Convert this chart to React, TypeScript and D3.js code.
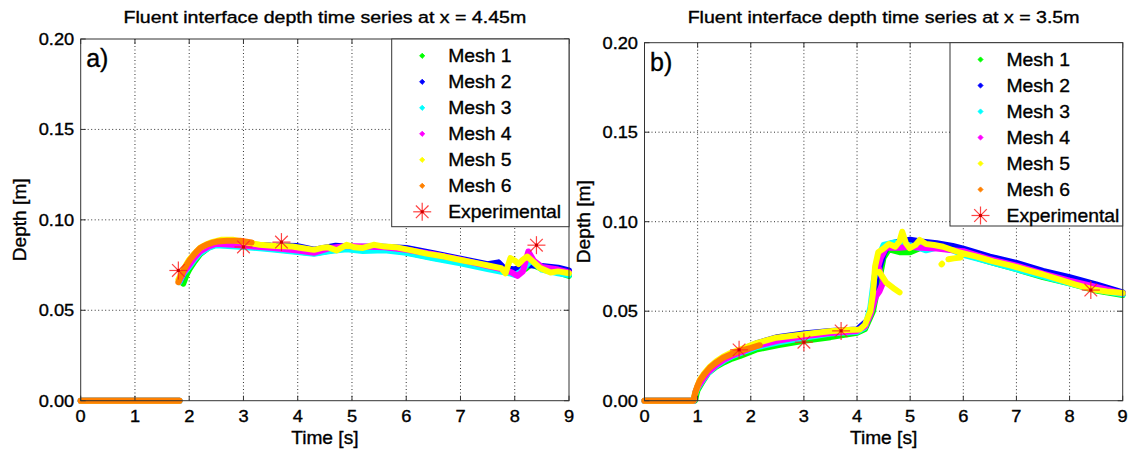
import React from "react";
import * as d3 from "d3";

type P = [number, number];
const G = NaN; // gap marker

// ---------- Panel a (x = 4.45 m) ----------
const aMesh1: P[] = [[0,0],[1.82,0],[G,G],[1.89,0.0647],[1.95,0.0695],[2.0,0.0725],[2.1,0.077],[2.2,0.081],[2.35,0.0845],[2.5,0.0865],[3.0,0.0855],[3.5,0.0842],[4.0,0.0825],[4.3,0.0815],[4.6,0.083],[4.9,0.0845],[5.2,0.0835],[5.6,0.084],[6.0,0.082],[6.5,0.079],[7.0,0.0765],[7.5,0.0735],[7.8,0.0718],[8.0,0.072],[8.2,0.073],[8.3,0.0755],[8.5,0.073],[8.8,0.071],[9.0,0.069]];
const aMesh2: P[] = [[0,0],[1.82,0],[G,G],[1.83,0.066],[1.9,0.0705],[2.0,0.0745],[2.1,0.079],[2.2,0.0825],[2.35,0.0852],[2.5,0.0868],[3.0,0.0865],[3.5,0.0858],[4.0,0.0855],[4.3,0.0835],[4.7,0.0857],[5.0,0.085],[5.5,0.0852],[6.0,0.0845],[6.5,0.0815],[7.0,0.0785],[7.5,0.0755],[7.7,0.0765],[7.8,0.0735],[8.0,0.0725],[8.2,0.075],[8.5,0.0745],[8.8,0.0735],[9.0,0.072]];
const aMesh3: P[] = [[0,0],[1.82,0],[G,G],[1.82,0.0655],[1.9,0.0705],[2.0,0.074],[2.1,0.0782],[2.2,0.0815],[2.35,0.0845],[2.5,0.086],[3.0,0.085],[3.5,0.0838],[4.0,0.0822],[4.3,0.0812],[4.6,0.0828],[4.9,0.0838],[5.2,0.0828],[5.6,0.0832],[6.0,0.0818],[6.5,0.0788],[7.0,0.076],[7.5,0.0728],[7.9,0.0705],[8.0,0.0695],[8.1,0.071],[8.3,0.0775],[8.5,0.0725],[8.8,0.0705],[9.0,0.0695]];
const aMesh4: P[] = [[0,0],[1.82,0],[G,G],[1.81,0.066],[1.9,0.071],[2.0,0.075],[2.1,0.0792],[2.2,0.0825],[2.35,0.0852],[2.5,0.0868],[3.0,0.0858],[3.5,0.0845],[4.0,0.083],[4.3,0.0818],[4.6,0.0845],[4.9,0.0855],[5.2,0.0852],[5.6,0.0848],[6.0,0.0835],[6.5,0.081],[7.0,0.078],[7.5,0.0745],[7.8,0.0725],[7.95,0.0708],[8.05,0.069],[8.15,0.0715],[8.25,0.0825],[8.35,0.0775],[8.5,0.074],[8.8,0.0725],[9.0,0.071]];
const aMesh5: P[] = [[0,0],[1.82,0],[G,G],[1.8,0.067],[1.9,0.073],[2.0,0.078],[2.1,0.0815],[2.2,0.0845],[2.3,0.0862],[2.4,0.0875],[2.6,0.089],[2.8,0.089],[3.0,0.0878],[3.3,0.0862],[3.6,0.0855],[3.9,0.0853],[4.1,0.0843],[4.3,0.0834],[4.45,0.0845],[4.55,0.0849],[4.72,0.0831],[4.9,0.0862],[5.05,0.0848],[5.2,0.0845],[5.4,0.0862],[5.6,0.0852],[5.8,0.0849],[6.1,0.0831],[6.4,0.0812],[6.7,0.0797],[7.0,0.0778],[7.3,0.0761],[7.55,0.0745],[7.75,0.0733],[7.83,0.0705],[7.92,0.0788],[8.0,0.0775],[8.07,0.0755],[8.15,0.078],[8.23,0.0797],[8.35,0.0765],[8.47,0.0733],[8.66,0.0709],[8.8,0.0715],[9.0,0.0705]];
const aMesh6: P[] = [[0,0],[1.82,0],[G,G],[1.8,0.0655],[1.85,0.069],[1.9,0.0722],[1.96,0.0755],[2.02,0.0782],[2.08,0.0805],[2.14,0.0826],[2.2,0.0844],[2.28,0.0857],[2.35,0.0866],[2.43,0.0874],[2.51,0.088],[2.7,0.0884],[2.94,0.0884],[3.15,0.0875]];
const aExpTime = [1.8, 3.0, 3.7, 8.4];
const aExpDepth = [0.072, 0.085, 0.0877, 0.086];

// ---------- Panel b (x = 3.5 m) ----------
const bMesh1: P[] = [[0,0],[0.95,0],[0.98,0.004],[1.0,0.006],[1.1,0.011],[1.2,0.0155],[1.35,0.019],[1.5,0.0215],[1.65,0.0235],[1.8,0.025],[2.1,0.0285],[2.5,0.031],[3.0,0.0335],[3.5,0.0355],[4.0,0.038],[4.15,0.04],[4.3,0.05],[4.4,0.065],[4.5,0.08],[4.6,0.0845],[4.8,0.083],[5.0,0.083],[5.2,0.0855],[5.5,0.0855],[5.8,0.085],[6.0,0.082],[6.5,0.0775],[7.0,0.0735],[7.5,0.069],[8.0,0.0655],[8.5,0.0615],[9.0,0.059]];
const bMesh2: P[] = [[0,0],[0.93,0],[0.96,0.005],[1.0,0.008],[1.1,0.0128],[1.2,0.017],[1.35,0.021],[1.5,0.0242],[1.65,0.0265],[1.8,0.0282],[2.1,0.032],[2.5,0.0355],[3.0,0.0375],[3.5,0.039],[4.0,0.0398],[4.2,0.045],[4.3,0.055],[4.38,0.07],[4.45,0.077],[4.5,0.082],[4.6,0.0875],[4.8,0.089],[5.0,0.09],[5.2,0.089],[5.5,0.088],[5.8,0.0865],[6.0,0.085],[6.5,0.0805],[7.0,0.077],[7.5,0.0725],[8.0,0.069],[8.5,0.065],[9.0,0.0605]];
const bMesh3: P[] = [[0,0],[0.93,0],[0.96,0.0045],[1.0,0.007],[1.1,0.0115],[1.2,0.0155],[1.35,0.0195],[1.5,0.0225],[1.65,0.0248],[1.8,0.0265],[2.1,0.0298],[2.5,0.0325],[3.0,0.0352],[3.5,0.0375],[4.0,0.0385],[4.15,0.041],[4.25,0.052],[4.32,0.068],[4.4,0.08],[4.5,0.087],[4.7,0.0885],[4.9,0.0875],[5.1,0.086],[5.3,0.084],[5.5,0.0855],[5.8,0.084],[6.0,0.0815],[6.5,0.0775],[7.0,0.0735],[7.5,0.0695],[8.0,0.0655],[8.5,0.062],[9.0,0.0595]];
const bMesh4: P[] = [[0,0],[0.93,0],[0.96,0.0048],[1.0,0.0075],[1.1,0.012],[1.2,0.016],[1.35,0.02],[1.5,0.023],[1.65,0.0252],[1.8,0.027],[2.1,0.0305],[2.5,0.0335],[3.0,0.036],[3.5,0.0378],[4.0,0.039],[4.15,0.0415],[4.25,0.048],[4.35,0.058],[4.42,0.061],[4.5,0.0667],[4.45,0.0704],[4.4,0.075],[4.45,0.08],[4.55,0.0855],[4.8,0.0855],[5.0,0.086],[5.2,0.0855],[5.5,0.085],[5.8,0.084],[6.0,0.0835],[6.5,0.079],[7.0,0.0755],[7.5,0.071],[8.0,0.067],[8.5,0.0635],[9.0,0.06]];
const bMesh5: P[] = [[0,0],[0.92,0],[0.95,0.004],[1.04,0.0116],[1.13,0.0155],[1.23,0.019],[1.35,0.022],[1.48,0.0246],[1.63,0.0268],[1.79,0.0285],[2.11,0.0322],[2.48,0.0352],[2.98,0.037],[3.48,0.0388],[3.8,0.0395],[4.05,0.0398],[4.15,0.0425],[4.25,0.05],[4.3,0.06],[4.34,0.075],[4.4,0.083],[4.5,0.085],[4.6,0.0875],[4.72,0.086],[4.8,0.089],[4.85,0.0944],[4.92,0.088],[4.99,0.0852],[5.1,0.087],[5.18,0.0898],[5.3,0.0875],[5.45,0.087],[5.62,0.086],[5.93,0.0828],[6.25,0.0805],[6.56,0.0778],[6.9,0.0755],[7.18,0.0731],[7.5,0.0705],[7.81,0.0676],[8.1,0.065],[8.44,0.0622],[8.7,0.061],[9.0,0.0602],
  [G,G],[4.42,0.072],[4.55,0.066],[4.68,0.063],[4.8,0.0605],
  [G,G],[5.59,0.0762],[5.6,0.0765],
  [G,G],[5.72,0.079],[5.82,0.0795],[5.95,0.08]];
const bMesh6: P[] = [[0,0],[0.92,0],[0.95,0.004],[1.0,0.0085],[1.04,0.0112],[1.13,0.015],[1.23,0.0185],[1.35,0.0214],[1.48,0.024],[1.63,0.026],[1.79,0.0278],[2.0,0.0295],[2.17,0.031]];
const bExpTime = [1.78, 3.0, 3.7, 8.4];
const bExpDepth = [0.0284, 0.0327, 0.039, 0.0618];

const meshNames = ["Mesh 1", "Mesh 2", "Mesh 3", "Mesh 4", "Mesh 5", "Mesh 6"];
const meshColors = ["#00ff00", "#0000ff", "#00ffff", "#ff00ff", "#ffff00", "#ff8000"];
const xTicks = [0, 1, 2, 3, 4, 5, 6, 7, 8, 9];
const yTicks = [0, 0.05, 0.1, 0.15, 0.2];
const titles = ["Fluent interface depth time series at x = 4.45m", "Fluent interface depth time series at x = 3.5m"];
const panelLetters = ["a)", "b)"];

const FONT = "'Liberation Sans', Arial, Helvetica, sans-serif";

const T = ({ x, y, size, sx = 1, anchor = "start", rot = 0, children }: any) => (
  <text
    transform={`translate(${x},${y})${rot ? ` rotate(${rot})` : ""} scale(${sx},1)`}
    fontSize={size}
    textAnchor={anchor}
    fontFamily={FONT}
    fill="#000"
    stroke="#000"
    strokeWidth={0.35}
  >
    {children}
  </text>
);

const Star = ({ cx, cy, s = 1 }: { cx: number; cy: number; s?: number }) => {
  const a = 9 * s, b = 6.3 * s;
  return (
    <g stroke="#ff2020" strokeWidth={1.2} strokeOpacity={0.85}>
      <line x1={cx - a} y1={cy} x2={cx + a} y2={cy} />
      <line x1={cx} y1={cy - a} x2={cx} y2={cy + a} />
      <line x1={cx - b} y1={cy - b} x2={cx + b} y2={cy + b} />
      <line x1={cx - b} y1={cy + b} x2={cx + b} y2={cy - b} />
      <rect x={cx - 1.5} y={cy - 1.5} width={3} height={3} fill="#d00000" stroke="none" />
    </g>
  );
};

const Panel = ({ idx, box, meshes, expT, expD, legendBox }: any) => {
  const x = d3.scaleLinear().domain([0, 9]).range([box.left, box.right]);
  const y = d3.scaleLinear().domain([0, 0.2]).range([box.bottom, box.top]);
  const line = d3
    .line<P>()
    .defined((d) => !isNaN(d[0]))
    .x((d) => x(d[0]))
    .y((d) => y(d[1]))
    .curve(d3.curveLinear);
  const tickLen = 5;
  return (
    <g>
      {/* grid */}
      <g stroke="#333" strokeWidth={1} strokeDasharray="1,2.5">
        {xTicks.slice(1, -1).map((t) => (
          <line key={"gx" + t} x1={x(t)} x2={x(t)} y1={box.top} y2={box.bottom} />
        ))}
        {yTicks.slice(1, -1).map((t) => (
          <line key={"gy" + t} x1={box.left} x2={box.right} y1={y(t)} y2={y(t)} />
        ))}
      </g>
      {/* data */}
      {meshes.map((m: P[], i: number) => (
        <path
          key={"m" + i}
          d={line(m) || ""}
          fill="none"
          stroke={meshColors[i]}
          strokeWidth={6}
          strokeLinejoin="round"
          strokeLinecap="round"
        />
      ))}
      {expT.map((t: number, i: number) => (
        <Star key={"e" + i} cx={x(t)} cy={y(expD[i])} />
      ))}
      {/* box + ticks */}
      <rect x={box.left} y={box.top} width={box.right - box.left} height={box.bottom - box.top} fill="none" stroke="#333" strokeWidth={1} />
      <g stroke="#333" strokeWidth={1}>
        {xTicks.map((t) => (
          <g key={"tx" + t}>
            <line x1={x(t)} x2={x(t)} y1={box.bottom} y2={box.bottom - tickLen} />
            <line x1={x(t)} x2={x(t)} y1={box.top} y2={box.top + tickLen} />
          </g>
        ))}
        {yTicks.map((t) => (
          <g key={"ty" + t}>
            <line x1={box.left} x2={box.left + tickLen} y1={y(t)} y2={y(t)} />
            <line x1={box.right} x2={box.right - tickLen} y1={y(t)} y2={y(t)} />
          </g>
        ))}
      </g>
      {xTicks.map((t) => (
        <T key={"lx" + t} x={x(t)} y={box.bottom + 21.5} size={16.3} sx={1.12} anchor="middle">
          {String(t)}
        </T>
      ))}
      {yTicks.map((t) => (
        <T key={"ly" + t} x={box.left - 6.5} y={y(t) + 5.8} size={16.3} sx={1.12} anchor="end">
          {t.toFixed(2)}
        </T>
      ))}
      <T x={(box.left + box.right) / 2} y={box.bottom + 43.5} size={18.6} sx={1.03} anchor="middle">
        Time [s]
      </T>
      <T x={box.left - 55} y={(box.top + box.bottom) / 2} size={18.6} sx={1.03} anchor="middle" rot={-90}>
        Depth [m]
      </T>
      <T x={(box.left + box.right) / 2} y={23.3} size={16.3} sx={1.2} anchor="middle">
        {titles[idx]}
      </T>
      <T x={box.left + 5.5} y={box.top + 28} size={25} anchor="start">
        {panelLetters[idx]}
      </T>
      {/* legend */}
      <rect x={legendBox.left} y={legendBox.top} width={legendBox.right - legendBox.left} height={legendBox.bottom - legendBox.top} fill="#fff" stroke="#333" strokeWidth={1} />
      {meshNames.map((n, i) => {
        const by = legendBox.top + 23.3 + i * 26;
        const mx = legendBox.left + 30.5;
        const my = by - 6.5;
        return (
          <g key={"lg" + i}>
            <path d={`M${mx},${my - 2.6}L${mx + 2.6},${my}L${mx},${my + 2.6}L${mx - 2.6},${my}Z`} fill={meshColors[i]} stroke={meshColors[i]} strokeWidth={0.8} />
            <T x={legendBox.left + 56.5} y={by} size={18.6} sx={1.04}>
              {n}
            </T>
          </g>
        );
      })}
      <Star cx={legendBox.left + 30.5} cy={legendBox.top + 23.3 + 6 * 26 - 6.5} />
      <T x={legendBox.left + 56.5} y={legendBox.top + 23.3 + 6 * 26} size={18.6} sx={1.04}>
        Experimental
      </T>
    </g>
  );
};

export default function App() {
  return (
    <svg width={1135} height={452} style={{ position: "absolute", left: 0, top: 0, background: "#fff" }}>
      <rect width={1135} height={452} fill="#fff" />
      <Panel
        idx={0}
        box={{ left: 80.7, right: 569, top: 39, bottom: 400.7 }}
        meshes={[aMesh1, aMesh2, aMesh3, aMesh4, aMesh5, aMesh6]}
        expT={aExpTime}
        expD={aExpDepth}
        legendBox={{ left: 391.7, right: 569, top: 39, bottom: 226.7 }}
      />
      <Panel
        idx={1}
        box={{ left: 644.5, right: 1122.7, top: 42.7, bottom: 400.7 }}
        meshes={[bMesh1, bMesh2, bMesh3, bMesh4, bMesh5, bMesh6]}
        expT={bExpTime}
        expD={bExpDepth}
        legendBox={{ left: 950, right: 1122.7, top: 42.7, bottom: 226 }}
      />
    </svg>
  );
}
